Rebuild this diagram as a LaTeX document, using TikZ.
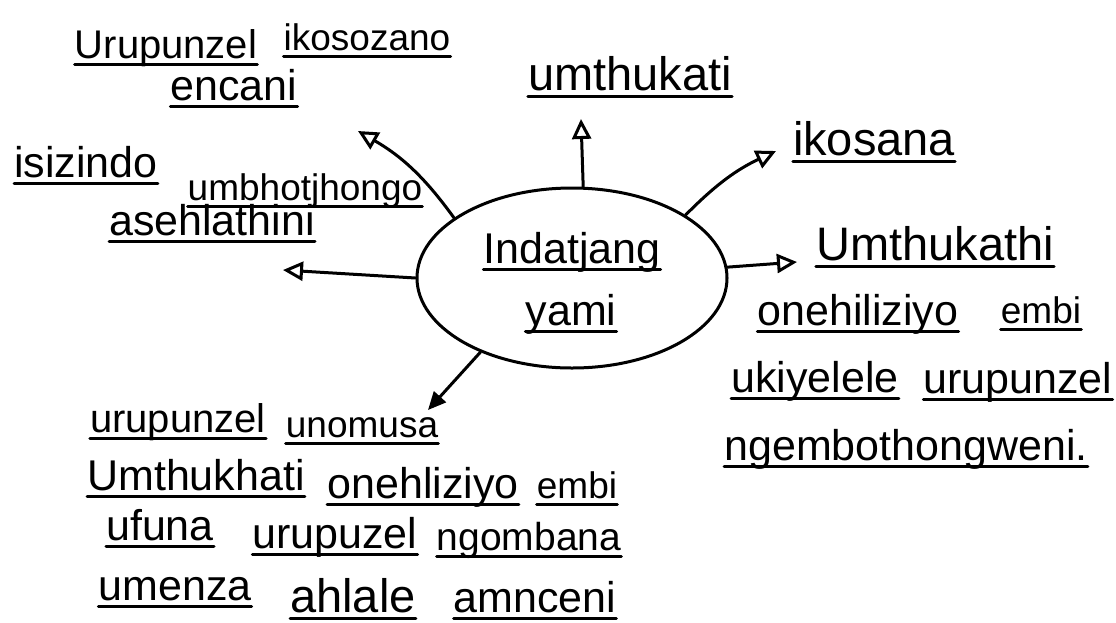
\documentclass[tikz,border=0pt]{standalone}
\usepackage{fontspec}
\setmainfont{Liberation Sans}
\usetikzlibrary{shapes.geometric,arrows.meta}
\begin{document}
\begin{tikzpicture}[
  x=1pt, y=-1pt,
  font=\fontsize{43}{48}\selectfont,
  uline/.style={draw=ink, line width=3pt, line cap=round},
  word/.style={inner sep=0pt, anchor=base, text=ink,
               append after command={([yshift=-6pt]\tikzlastnode.base west)
                 edge[uline] ([yshift=-6pt]\tikzlastnode.base east)}},
  slimword/.style={word, font=\fontsize{37}{42}\selectfont},
  wideword/.style={word, font=\fontsize{47}{52}\selectfont},
  bubble/.style={draw=ink, ellipse, line width=3pt,
                 minimum width=310pt, minimum height=180pt},
  link/.style={draw=ink, line width=3pt, line cap=round,
               -{Triangle[open, length=20pt, width=19pt]}},
  solidlink/.style={link, -{Triangle[length=18pt, width=16pt]}}
]
  \definecolor{ink}{HTML}{000000}
  \useasboundingbox (0,0) rectangle (1116,622);

  % ================= CENTRE =================
  \node[bubble] (hub) at (572,278) {};
  \node[word] (c1) at (572,263) {Indatjang};
  \node[word] (c2) at (571,325) {yami};

  % ================= UPPER LEFT =================
  \node[word, font=\fontsize{40}{44}\selectfont] (tl1) at (166,58) {Urupunzel};
  \node[slimword] (tl2) at (367,50) {ikosozano};
  \node[word] (tl3) at (234,100) {encani};

  % ================= LEFT =================
  \node[word] (lf1) at (86,177) {isizindo};
  \node[slimword] (lf2) at (305,200) {umbhotjhongo};
  \node[word] (lf3) at (212,235) {asehlathini};

  % ================= TOP / UPPER RIGHT =================
  \node[wideword] (tp1) at (630,90) {umthukati};
  \node[wideword] (tr1) at (874,155) {ikosana};

  % ================= RIGHT =================
  \node[wideword] (rt1) at (935,260) {Umthukathi};
  \node[word] (rt2) at (858,325) {onehiliziyo};
  \node[slimword] (rt3) at (1041,323) {embi};
  \node[word] (rt4) at (815,392) {ukiyelele};
  \node[word] (rt5) at (1018,393) {urupunzel};
  \node[word] (rt6) at (906,460) {ngembothongweni.};

  % ================= LOWER LEFT =================
  \node[word, font=\fontsize{40}{44}\selectfont] (bl1) at (178,432) {urupunzel};
  \node[slimword] (bl2) at (362,437) {unomusa};
  \node[word] (bl3) at (196,490) {Umthukhati};
  \node[word] (bl4) at (423,498) {onehliziyo};
  \node[slimword] (bl5) at (577,498) {embi};
  \node[word] (bl6) at (160,540) {ufuna};
  \node[word] (bl7) at (335,548) {urupuzel};
  \node[word, font=\fontsize{39}{44}\selectfont] (bl8) at (529,550) {ngombana};
  \node[word] (bl9) at (175,600) {umenza};
  \node[wideword] (bl10) at (353,612) {ahlale};
  \node[word] (bl11) at (535,612) {amnceni};

  % ================= ARROWS =================
  \coordinate (tipUL) at (358,131);
  \coordinate (tipL) at (283,270);
  \coordinate (tipUp) at (581,119);
  \coordinate (tipUR) at (776,151);
  \coordinate (tipR) at (797,262);
  \coordinate (tipDL) at (428,410);

  \draw[link] (hub.153) to[bend right=12] (tipUL);
  \draw[link] (hub.180) -- (tipL);
  \draw[link] (hub.83) -- (tipUp);
  \draw[link] (hub.29) to[bend left=10] (tipUR);
  \draw[link] (hub.4) -- (tipR);
  \draw[solidlink] (hub.219) -- (tipDL);
\end{tikzpicture}
\end{document}
